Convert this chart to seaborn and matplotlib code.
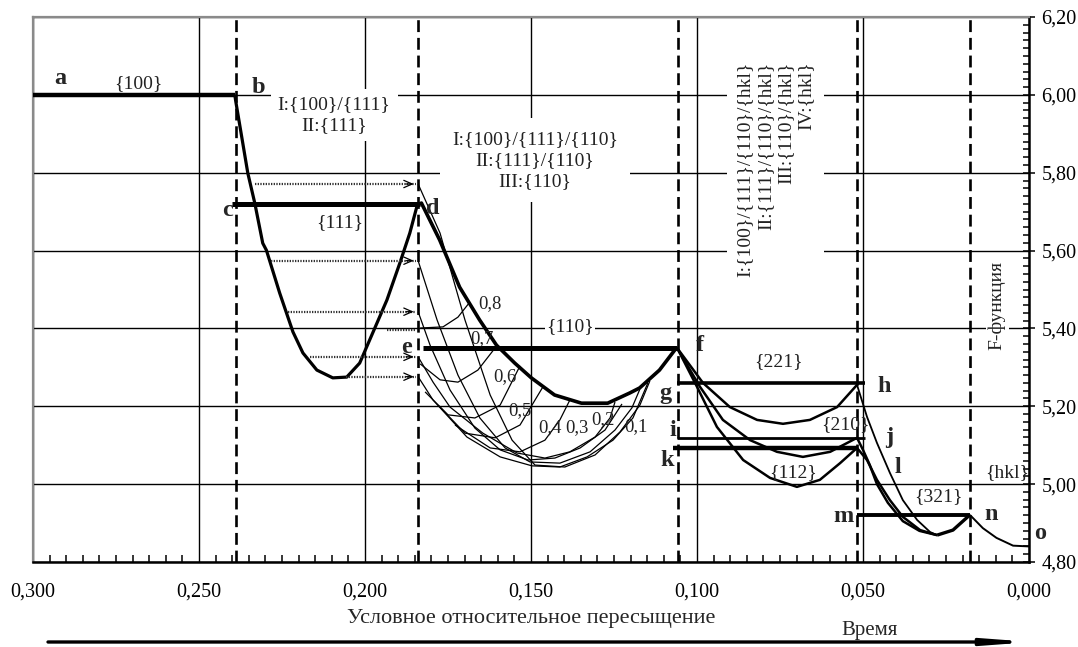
import matplotlib
matplotlib.use("Agg")
import matplotlib.pyplot as plt
import seaborn as sns
from matplotlib.ticker import MultipleLocator, FuncFormatter

# ---------------- data ----------------
x_major = 0.05
y_major = 0.20

boundaries = [0.2390, 0.1841, 0.1058, 0.0519, 0.0178]      # dashed vertical lines

# thick horizontal plateaus
ab_x = [0.300, 0.2392]; ab_y = [6.000, 6.000]
cd_x = [0.2402, 0.1835]; cd_y = [5.720, 5.720]
ef_x = [0.1825, 0.1060]; ef_y = [5.350, 5.350]
gh_x = [0.1060, 0.0494]; gh_y = [5.260, 5.260]
ij_x = [0.1060, 0.0494]; ij_y = [5.119, 5.119]
kl_x = [0.1072, 0.0518]; kl_y = [5.093, 5.093]
mn_x = [0.0518, 0.0178]; mn_y = [4.921, 4.921]

# b -> d curve
bd_x = [0.2392, 0.2390, 0.2353, 0.2332, 0.2308, 0.2297, 0.2257, 0.2217, 0.2187, 0.2145,
        0.2097, 0.2055, 0.2016, 0.1977, 0.1934, 0.1895, 0.1865, 0.1841]
bd_y = [6.000, 5.987, 5.799, 5.722, 5.619, 5.601, 5.491, 5.391, 5.337, 5.293,
        5.273, 5.275, 5.311, 5.388, 5.473, 5.568, 5.645, 5.722]

# d -> f curve
df_x = [0.1835, 0.1830, 0.1775, 0.1715, 0.1655, 0.1604, 0.1549, 0.1499, 0.1429, 0.1348,
        0.1269, 0.1203, 0.1173, 0.1113, 0.1062]
df_y = [5.720, 5.722, 5.627, 5.506, 5.422, 5.357, 5.311, 5.273, 5.229, 5.208,
        5.208, 5.234, 5.247, 5.293, 5.350]

# dotted transfer arrows
arrow_y = [5.771, 5.574, 5.443, 5.327, 5.276]
arrow_x0 = [0.2332, 0.2282, 0.2232, 0.2166, 0.2056]
arrow_x1 = [0.1845, 0.1845, 0.1845, 0.1845, 0.1845]
link_x = [0.1935, 0.1845]; link_y = [5.396, 5.396]

# thin mesh: family A
a1_x = [0.1840, 0.1774, 0.1699, 0.1623, 0.1557, 0.1488, 0.1398, 0.1307, 0.1232, 0.1172, 0.1142]
a1_y = [5.771, 5.645, 5.422, 5.229, 5.113, 5.049, 5.044, 5.075, 5.134, 5.203, 5.265]
a2_x = [0.1840, 0.1783, 0.1720, 0.1654, 0.1578, 0.1503, 0.1413, 0.1322, 0.1247, 0.1196, 0.1172]
a2_y = [5.574, 5.422, 5.280, 5.170, 5.093, 5.057, 5.054, 5.083, 5.139, 5.196, 5.244]
a3_x = [0.1840, 0.1804, 0.1744, 0.1669, 0.1593, 0.1509, 0.1428, 0.1352, 0.1277, 0.1226]
a3_y = [5.443, 5.357, 5.242, 5.144, 5.088, 5.062, 5.067, 5.093, 5.139, 5.206]
a4_x = [0.1840, 0.1795, 0.1744, 0.1645, 0.1542, 0.1458, 0.1383, 0.1307, 0.1262, 0.1247]
a4_y = [5.327, 5.262, 5.198, 5.131, 5.080, 5.067, 5.083, 5.121, 5.170, 5.211]
a5_x = [0.1840, 0.1795, 0.1693, 0.1593, 0.1497, 0.1413, 0.1331, 0.1253, 0.1193, 0.1148]
a5_y = [5.276, 5.216, 5.121, 5.070, 5.047, 5.044, 5.070, 5.113, 5.170, 5.260]
# thin mesh: family B (fraction arcs)
b8_x = [0.1834, 0.1765, 0.1720, 0.1684]
b8_y = [5.401, 5.404, 5.429, 5.468]
b7_x = [0.1834, 0.1774, 0.1720, 0.1660, 0.1608]
b7_y = [5.309, 5.268, 5.262, 5.293, 5.350]
b6_x = [0.1819, 0.1750, 0.1669, 0.1593, 0.1533]
b6_y = [5.237, 5.178, 5.170, 5.203, 5.304]
b5_x = [0.1780, 0.1699, 0.1608, 0.1533, 0.1464]
b5_y = [5.203, 5.131, 5.119, 5.152, 5.250]
b4_x = [0.1729, 0.1623, 0.1533, 0.1458, 0.1413, 0.1383]
b4_y = [5.152, 5.093, 5.083, 5.113, 5.165, 5.216]
frac_labels = ["0,8", "0,7", "0,6", "0,5", "0,4", "0,3", "0,2", "0,1"]
frac_x = [0.1623, 0.1648, 0.1578, 0.1533, 0.1443, 0.1361, 0.1283, 0.1184]
frac_y = [5.465, 5.375, 5.275, 5.190, 5.144, 5.144, 5.165, 5.147]

# f -> h, f -> j, f -> k curves
c1_x = [0.1060, 0.0982, 0.0901, 0.0819, 0.0741, 0.0660, 0.0578, 0.0518]
c1_y = [5.350, 5.260, 5.198, 5.165, 5.155, 5.165, 5.198, 5.255]
c2_x = [0.1060, 0.0991, 0.0922, 0.0840, 0.0759, 0.0681, 0.0599, 0.0518]
c2_y = [5.350, 5.250, 5.165, 5.113, 5.083, 5.070, 5.083, 5.119]
c3_x = [0.1060, 0.1000, 0.0940, 0.0861, 0.0780, 0.0699, 0.0630, 0.0569, 0.0518]
c3_y = [5.350, 5.250, 5.147, 5.062, 5.016, 4.993, 5.011, 5.054, 5.093]

# h, j, k -> {321} minimum -> n -> o
d1_x = [0.0518, 0.0488, 0.0458, 0.0419, 0.0380, 0.0337, 0.0298, 0.0277]
d1_y = [5.255, 5.173, 5.106, 5.029, 4.959, 4.908, 4.877, 4.869]
d2_x = [0.0518, 0.0500, 0.0480, 0.0458, 0.0425, 0.0380, 0.0330, 0.0277]
d2_y = [5.119, 5.088, 5.050, 5.000, 4.952, 4.905, 4.880, 4.869]
d3_x = [0.0518, 0.0488, 0.0458, 0.0419, 0.0380, 0.0328, 0.0277]
d3_y = [5.093, 5.062, 5.011, 4.959, 4.916, 4.882, 4.869]
e_x = [0.0277, 0.0229, 0.0178]
e_y = [4.869, 4.882, 4.921]
no_x = [0.0178, 0.0139, 0.0098, 0.0048, 0.0000]
no_y = [4.921, 4.887, 4.862, 4.842, 4.840]

# point letters
pt_labels = ["a", "b", "c", "d", "e", "f", "g", "h", "i", "j", "k", "l", "m", "n", "o"]
pt_x = [0.2919, 0.2322, 0.2413, 0.1795, 0.1875, 0.0991, 0.1096, 0.0437, 0.1072, 0.0422,
        0.1090, 0.0395, 0.0560, 0.0114, -0.0033]
pt_y = [6.043, 6.018, 5.704, 5.709, 5.352, 5.357, 5.234, 5.250, 5.139, 5.119,
        5.062, 5.044, 4.916, 4.923, 4.872]

# face labels
face_labels = ["{100}", "{111}", "{110}", "{221}", "{210}", "{112}", "{321}", "{hkl}"]
face_x = [0.2684, 0.2075, 0.1383, 0.0756, 0.0554, 0.0711, 0.0274, 0.0066]
face_y = [6.030, 5.673, 5.404, 5.314, 5.152, 5.029, 4.967, 5.029]

box1_text = "I:{100}/{111}\nII:{111}"
box2_text = "I:{100}/{111}/{110}\nII:{111}/{110}\nIII:{110}"
box3_text = "I:{100}/{111}/{110}/{hkl}\nII:{111}/{110}/{hkl}\nIII:{110}/{hkl}\nIV:{hkl}"
x_title = "Условное относительное пересыщение"
y_title = "F-функция"
time_title = "Время"

# ---------------- figure ----------------
sns.set_theme(style="white")
plt.rcParams["font.family"] = ["Liberation Serif", "DejaVu Serif"]

W, H = 1078, 647
fig = plt.figure(figsize=(W / 100, H / 100), dpi=100)
ax = fig.add_axes([33 / W, 1 - 562 / H, (1029 - 33) / W, (562 - 17) / H])
ax.set_xlim(0.300, 0.000)
ax.set_ylim(4.80, 6.20)

ax.xaxis.set_major_locator(MultipleLocator(x_major))
ax.xaxis.set_minor_locator(MultipleLocator(0.005))
ax.yaxis.set_major_locator(MultipleLocator(y_major))
ax.yaxis.set_minor_locator(MultipleLocator(0.02))
ax.xaxis.set_major_formatter(FuncFormatter(lambda v, p: f"{abs(v):.3f}".replace(".", ",")))
ax.yaxis.set_major_formatter(FuncFormatter(lambda v, p: f"{v:.2f}".replace(".", ",")))
ax.yaxis.tick_right()
ax.tick_params(axis="x", which="major", direction="in", length=0, pad=15, labelsize=14.5, colors="black")
ax.tick_params(axis="x", which="minor", direction="in", length=5, width=1.1, bottom=True, color="black")
ax.tick_params(axis="y", which="major", direction="inout", length=8, width=1.1, pad=5, labelsize=14.5,
               right=True, left=False, colors="black")
ax.tick_params(axis="y", which="minor", direction="in", length=4, width=1.1, right=True, left=False, color="black")

ax.set_axisbelow(True)
ax.grid(True, which="major", color="black", lw=1.0)
for side in ["top", "left"]:
    ax.spines[side].set_color("#8a8a8a"); ax.spines[side].set_linewidth(1.6)
for side in ["bottom", "right"]:
    ax.spines[side].set_color("black"); ax.spines[side].set_linewidth(1.8)


def curve(xs, ys, lw, z=4):
    sns.lineplot(x=xs, y=ys, sort=False, estimator=None, color="black", lw=lw, ax=ax,
                 legend=False, zorder=z, solid_joinstyle="round", solid_capstyle="butt")


for bx in boundaries:
    ax.axvline(bx, color="black", lw=1.9, ls=(0, (4.5, 2.2)), zorder=3)

# thick plateaus
curve(ab_x, ab_y, 3.2)
curve(cd_x, cd_y, 3.6)
curve(ef_x, ef_y, 3.6)
curve(gh_x, gh_y, 2.6)
curve(ij_x, ij_y, 2.0)
curve(kl_x, kl_y, 3.2)
curve(mn_x, mn_y, 2.8)

# main curves
curve(bd_x, bd_y, 2.3)
curve(df_x, df_y, 2.6)
for xs, ys in [(a1_x, a1_y), (a2_x, a2_y), (a3_x, a3_y), (a4_x, a4_y), (a5_x, a5_y),
               (b8_x, b8_y), (b7_x, b7_y), (b6_x, b6_y), (b5_x, b5_y), (b4_x, b4_y)]:
    curve(xs, ys, 0.9)
curve(c1_x, c1_y, 1.8)
curve(c2_x, c2_y, 1.8)
curve(c3_x, c3_y, 1.8)
curve(d1_x, d1_y, 1.3)
curve(d2_x, d2_y, 1.8)
curve(d3_x, d3_y, 1.8)
curve(e_x, e_y, 2.4)
curve(no_x, no_y, 1.4)

# dotted transfer arrows
for y0, x0, x1 in zip(arrow_y, arrow_x0, arrow_x1):
    ax.plot([x0, x1], [y0, y0], color="#333333", lw=1.6, ls=(0, (0.6, 0.6)), zorder=4)
    ax.annotate("", xy=(x1, y0), xytext=(x1 + 0.004, y0),
                arrowprops=dict(arrowstyle="->,head_length=0.5,head_width=0.22", color="black", lw=0.9),
                zorder=4)
ax.plot(link_x, link_y, color="#333333", lw=1.6, ls=(0, (0.6, 0.6)), zorder=4)

# labels
for t, x, y in zip(pt_labels, pt_x, pt_y):
    ax.text(x, y, t, fontsize=17.5, fontweight="bold", ha="center", va="center", zorder=6, clip_on=False)
for t, x, y in zip(face_labels, face_x, face_y):
    kw = dict(bbox=dict(fc="white", ec="none", pad=1)) if t == "{110}" else {}
    ax.text(x, y, t, fontsize=14, ha="center", va="center", zorder=5, color="#222222", **kw)
for t, x, y in zip(frac_labels, frac_x, frac_y):
    ax.text(x, y, t, fontsize=13.5, ha="center", va="center", zorder=5, color="#222222")

ax.text(0.2093, 5.948, box1_text, fontsize=14, ha="center", va="center", linespacing=1.3,
        zorder=2.5, color="#222222", bbox=dict(fc="white", ec="none", pad=5))
ax.text(0.1488, 5.832, box2_text, fontsize=14, ha="center", va="center", linespacing=1.3,
        zorder=2.5, color="#222222", bbox=dict(fc="white", ec="none", pad=9))
ax.text(0.0763, 6.086, box3_text, fontsize=14, ha="center", va="top", rotation=90,
        multialignment="right", linespacing=1.25, zorder=2.5, color="#222222",
        bbox=dict(fc="white", ec="none", pad=7))
ax.text(0.0096, 5.46, y_title, fontsize=14, ha="center", va="center", rotation=90,
        zorder=2.5, color="#222222", bbox=dict(fc="white", ec="none", pad=2))

fig.text(531 / W, 1 - 618 / H, x_title, fontsize=16, ha="center", va="center")
fig.text(870 / W, 1 - 630 / H, time_title, fontsize=15, ha="center", va="center")
ax.annotate("", xy=(1032 / W, 1 - 642 / H), xytext=(48 / W, 1 - 642 / H),
            xycoords="figure fraction", textcoords="figure fraction",
            arrowprops=dict(arrowstyle="-|>,head_length=2.0,head_width=0.15", lw=2.4,
                            color="black", mutation_scale=12, shrinkA=0, shrinkB=0),
            annotation_clip=False)

fig.savefig("out.png", dpi=100)
